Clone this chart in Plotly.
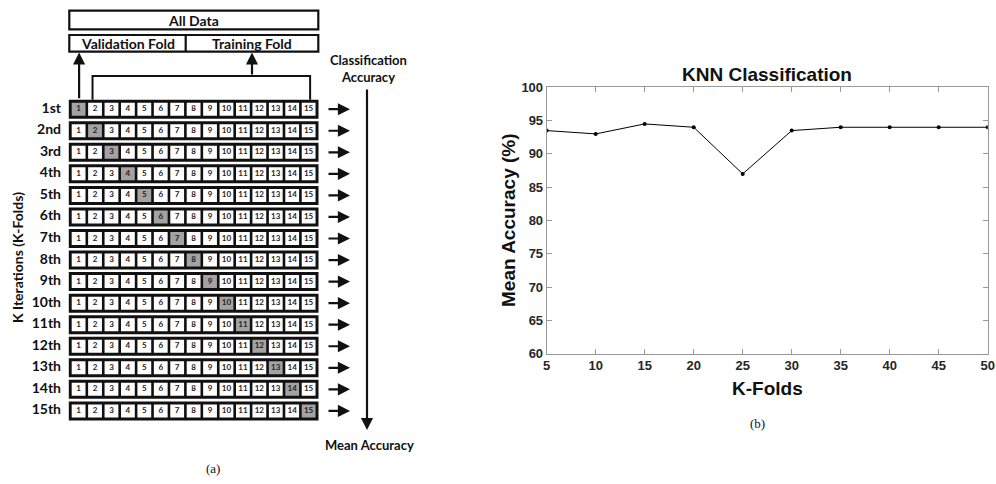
import plotly.graph_objects as go

# ---------------- data ----------------
k_folds = [5, 10, 15, 20, 25, 30, 35, 40, 45, 50]
mean_accuracy = [93.5, 93.0, 94.5, 94.0, 87.0, 93.5, 94.0, 94.0, 94.0, 94.0]
x_ticks = [5, 10, 15, 20, 25, 30, 35, 40, 45, 50]
y_ticks = [60, 65, 70, 75, 80, 85, 90, 95, 100]

iterations = ["1st", "2nd", "3rd", "4th", "5th", "6th", "7th", "8th",
              "9th", "10th", "11th", "12th", "13th", "14th", "15th"]
fold_numbers = [1, 2, 3, 4, 5, 6, 7, 8, 9, 10, 11, 12, 13, 14, 15]
validation_fold = [1, 2, 3, 4, 5, 6, 7, 8, 9, 10, 11, 12, 13, 14, 15]

# ---------------- diagram layout constants (pixel-scaled axis) ----------------
ROW0, ROW_P = 109.2, 21.55
CELL0, CELL_P, CELL_W, CELL_H = 71.7, 16.43, 13.8, 13.0
BOX_L, BOX_R, BOX_H = 68.8, 318.5, 19.0
LBL = dict(family="Lato", size=14, color="#111", weight="bold")

fig = go.Figure()

def rect_path(x0, x1, y0, y1):
    return [x0, x1, x1, x0, x0, None], [y0, y0, y1, y1, y0, None]

bx, by = [], []
wx, wy, gx, gy = [], [], [], []
tx, ty, tt = [], [], []
for r, it in enumerate(iterations):
    cy = ROW0 + r * ROW_P
    px, py = rect_path(BOX_L, BOX_R, cy - BOX_H / 2, cy + BOX_H / 2)
    bx += px; by += py
    for f in fold_numbers:
        x0 = CELL0 + (f - 1) * CELL_P
        px, py = rect_path(x0, x0 + CELL_W, cy - CELL_H / 2, cy + CELL_H / 2)
        if f == validation_fold[r]:
            gx += px; gy += py
        else:
            wx += px; wy += py
        tx.append(x0 + CELL_W / 2); ty.append(cy); tt.append(str(f))

for xs, ys, col in [(bx, by, "#111"), (wx, wy, "white"), (gx, gy, "#a3a3a3")]:
    fig.add_trace(go.Scatter(x=xs, y=ys, mode="lines", fill="toself", fillcolor=col,
                             line=dict(width=0, color=col), xaxis="x2", yaxis="y2",
                             hoverinfo="skip", showlegend=False))

fig.add_trace(go.Scatter(x=tx, y=ty, text=tt, mode="text", xaxis="x2", yaxis="y2",
                         textfont=dict(family="Lato", size=8, color="#222", weight="bold"),
                         hoverinfo="skip", showlegend=False))

# row labels
fig.add_trace(go.Scatter(x=[61] * len(iterations), y=[ROW0 + r * ROW_P for r in range(len(iterations))],
                         text=iterations, mode="text", textposition="middle left",
                         xaxis="x2", yaxis="y2", textfont=LBL, hoverinfo="skip", showlegend=False))

# bracket over training folds
bk_x = [CELL0 + CELL_P + CELL_W / 2 - 2.5, CELL0 + CELL_P + CELL_W / 2 - 2.5,
        CELL0 + 14 * CELL_P + CELL_W / 2 + 1.5, CELL0 + 14 * CELL_P + CELL_W / 2 + 1.5]
bk_y = [ROW0 - BOX_H / 2, 76, 76, ROW0 - BOX_H / 2]
fig.add_trace(go.Scatter(x=bk_x, y=bk_y, mode="lines", line=dict(color="#111", width=2),
                         xaxis="x2", yaxis="y2", hoverinfo="skip", showlegend=False))

# right chart line
fig.add_trace(go.Scatter(x=k_folds, y=mean_accuracy, mode="lines+markers",
                         line=dict(color="black", width=1), marker=dict(color="black", size=4),
                         xaxis="x", yaxis="y", showlegend=False))

shapes = [
    dict(type="rect", xref="x2", yref="y2", x0=69.3, x1=318.3, y0=10.7, y1=29.3,
         line=dict(color="#111", width=2.2)),
    dict(type="rect", xref="x2", yref="y2", x0=69.3, x1=318.3, y0=35, y1=51.7,
         line=dict(color="#111", width=2.2)),
    dict(type="line", xref="x2", yref="y2", x0=185.7, x1=185.7, y0=35, y1=51.7,
         line=dict(color="#111", width=2.2)),
]

ann = []
def txt(x, y, s, font=LBL, ref="x2", **kw):
    d = dict(x=x, y=y, text=s, showarrow=False, font=font, xanchor="center", yanchor="middle")
    if ref == "x2":
        d.update(xref="x2", yref="y2")
    else:
        d.update(xref="paper", yref="paper")
    d.update(kw)
    ann.append(d)

def arrow(x, y, ax, ay):
    ann.append(dict(x=x, y=y, ax=ax, ay=ay, xref="x2", yref="y2", axref="x2", ayref="y2",
                    text="", showarrow=True, arrowhead=2, arrowsize=1.1, arrowwidth=2.2,
                    arrowcolor="#111"))

txt(193.8, 20, "All Data")
txt(127.5, 43.5, "Validation Fold")
txt(252, 43.5, "Training Fold")
txt(368, 68.5, "Classification<br>Accuracy", font=dict(family="Lato", size=13, color="#111", weight="bold"))
txt(369, 445, "Mean Accuracy", font=dict(family="Lato", size=13, color="#111", weight="bold"))
txt(17, 258, "K Iterations (K-Folds)", textangle=-90)
txt(213, 468, "(a)", font=dict(family="Liberation Serif", size=13, color="#111"))

arrow(CELL0 + CELL_W / 2 + 0.5, 52.5, CELL0 + CELL_W / 2 + 0.5, ROW0 - BOX_H / 2)
arrow(252, 52.5, 252, 76)
arrow(367, 430, 367, 88)
for r in range(len(iterations)):
    cy = ROW0 + r * ROW_P
    arrow(350, cy, 327, cy)

# right chart texts
RF = dict(family="Liberation Sans", color="#111", weight="bold")
txt(767 / 996, 1 - 74 / 484, "KNN Classification", font=dict(size=19, **RF), ref="paper")
txt(767 / 996, 1 - 388 / 484, "K-Folds", font=dict(size=19, **RF), ref="paper")
txt(508 / 996, 1 - 220 / 484, "Mean Accuracy (%)", font=dict(size=19, **RF), ref="paper", textangle=-90)
txt(757 / 996, 1 - 423 / 484, "(b)", font=dict(family="Liberation Serif", size=13, color="#111"), ref="paper")

tickfont = dict(family="Liberation Sans", size=13, color="#262626", weight="bold")
fig.update_layout(
    width=996, height=484, margin=dict(l=0, r=0, t=0, b=0, autoexpand=False),
    paper_bgcolor="white", plot_bgcolor="white",
    xaxis=dict(domain=[546.7 / 996, 987.7 / 996], range=[5, 50], tickvals=x_ticks,
               ticks="inside", ticklen=5, tickcolor="#999", showline=True, linecolor="#999",
               linewidth=1, mirror="ticks", showgrid=False, zeroline=False, tickfont=tickfont,
               anchor="y"),
    yaxis=dict(domain=[1 - 353.7 / 484, 1 - 87.3 / 484], range=[60, 100], tickvals=y_ticks,
               ticks="inside", ticklen=5, tickcolor="#999", showline=True, linecolor="#999",
               linewidth=1, mirror="ticks", showgrid=False, zeroline=False, tickfont=tickfont,
               anchor="x"),
    xaxis2=dict(domain=[0, 480 / 996], range=[0, 480], visible=False, anchor="y2"),
    yaxis2=dict(domain=[0, 1], range=[484, 0], visible=False, anchor="x2"),
    shapes=shapes, annotations=ann,
)

fig.write_html("out.html", config={"displayModeBar": False},
               post_script="document.body.style.margin='0';")
